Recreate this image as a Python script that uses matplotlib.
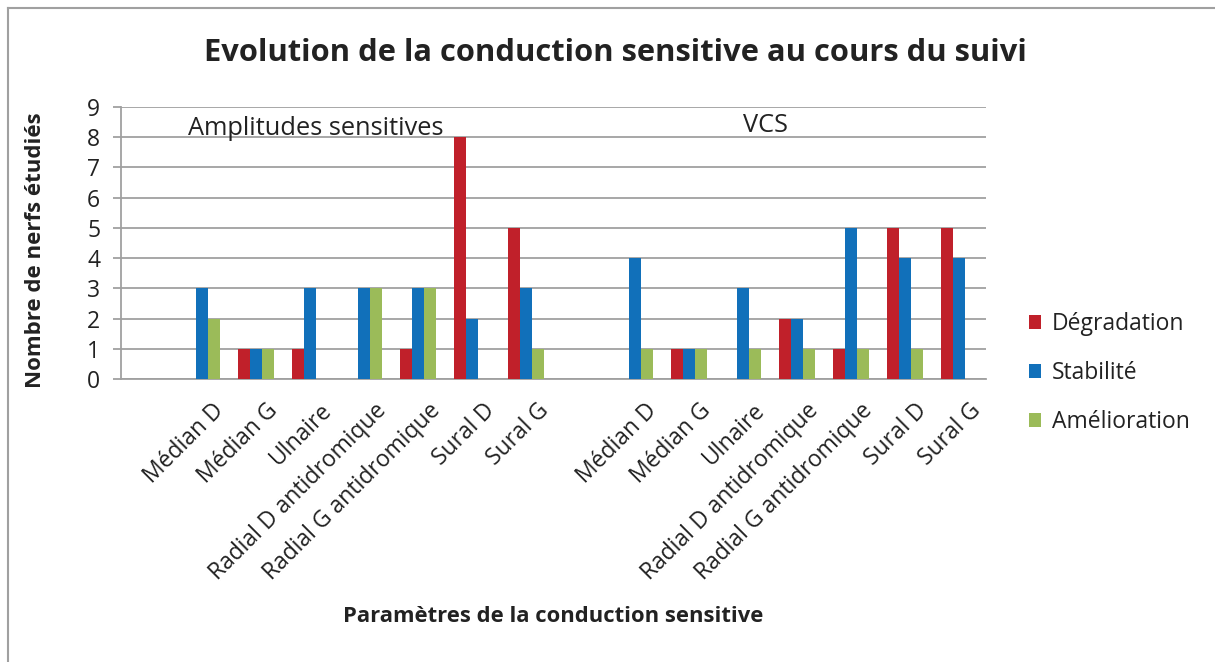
import matplotlib.pyplot as plt
import numpy as np
from matplotlib.lines import Line2D
from matplotlib.transforms import ScaledTranslation

plt.rcParams['font.family'] = ['Open Sans', 'DejaVu Sans']

# categories (16 slots, two blank separators)
nerfs = ["Médian D", "Médian G", "Ulnaire", "Radial D antidromique",
         "Radial G antidromique", "Sural D", "Sural G"]
categories = [""] + nerfs + [""] + nerfs

# Amplitudes sensitives then VCS
degradation = [0, 0, 1, 1, 0, 1, 8, 5, 0, 0, 1, 0, 2, 1, 5, 5]
stabilite = [0, 3, 1, 3, 3, 3, 2, 3, 0, 4, 1, 3, 2, 5, 4, 4]
amelioration = [0, 2, 1, 0, 3, 3, 0, 1, 0, 1, 1, 1, 1, 1, 1, 0]

series = ["Dégradation", "Stabilité", "Amélioration"]
colors = ["#C0202A", "#1170BA", "#9BBB59"]

fig = plt.figure(figsize=(12.15, 6.62), dpi=100)
ax = fig.add_axes([121 / 1215, 1 - 379 / 662, 865 / 1215, 272 / 662])

x = np.arange(len(categories))
w = 0.222
for i, (vals, lab, col) in enumerate(zip([degradation, stabilite, amelioration], series, colors)):
    ax.bar(x + (i - 1) * w, vals, width=w, color=col, label=lab, zorder=3)

ax.set_xlim(-0.5, len(categories) - 0.5)
ax.set_ylim(0, 9)
ax.set_yticks(range(10))
ax.yaxis.grid(True, color="#a0a0a0", linewidth=1.3, zorder=0)
ax.set_axisbelow(True)
for s in ["top", "right"]:
    ax.spines[s].set_visible(False)
ax.spines["left"].set_color("#a0a0a0")
ax.spines["bottom"].set_color("#a0a0a0")
ax.spines["left"].set_linewidth(1.3)
ax.spines["bottom"].set_linewidth(1.3)
ax.tick_params(axis="y", length=6, width=1.3, color="#a0a0a0", labelsize=16.5, pad=9, labelcolor="#222222")
ax.tick_params(axis="x", length=0, pad=14)
ax.set_xticks(x)
ax.set_xticklabels(categories, rotation=45, ha="right", va="top", rotation_mode="anchor",
                   fontsize=16.5, color="#222222")
shift = ScaledTranslation(10 / 100, 0, fig.dpi_scale_trans)
for lbl in ax.get_xticklabels():
    lbl.set_transform(lbl.get_transform() + shift)

ax.text(0.0775, 8.3, "Amplitudes sensitives", transform=ax.get_yaxis_transform(),
        fontsize=18.3, va="center", ha="left", color="#222222")
ax.text(0.745, 8.4, "VCS", transform=ax.get_yaxis_transform(),
        fontsize=18.3, va="center", ha="center", color="#222222")

fig.text(615 / 1215, 1 - 53 / 662, "Evolution de la conduction sensitive au cours du suivi",
         fontsize=22.2, fontweight="bold", ha="center", va="center", color="#222222")
fig.text(553 / 1215, 1 - 617 / 662, "Paramètres de la conduction sensitive",
         fontsize=15.8, fontweight="bold", ha="center", va="center", color="#222222")
fig.text(36 / 1215, 1 - 250 / 662, "Nombre de nerfs étudiés", rotation=90,
         fontsize=16, fontweight="bold", ha="center", va="center", color="#222222")

fig.legend(loc="center left", bbox_to_anchor=(1008 / 1215, 1 - 373 / 662), frameon=False,
           fontsize=16.5, handlelength=0.55, handleheight=0.55, handletextpad=0.45,
           labelspacing=1.08, labelcolor="#222222")

fig.add_artist(Line2D([8 / 1215, 8 / 1215], [0, 1 - 8 / 662], color="#a0a0a0", lw=1.5))
fig.add_artist(Line2D([8 / 1215, 1], [1 - 8 / 662, 1 - 8 / 662], color="#a0a0a0", lw=1.5))

fig.savefig("out.png", dpi=100)
